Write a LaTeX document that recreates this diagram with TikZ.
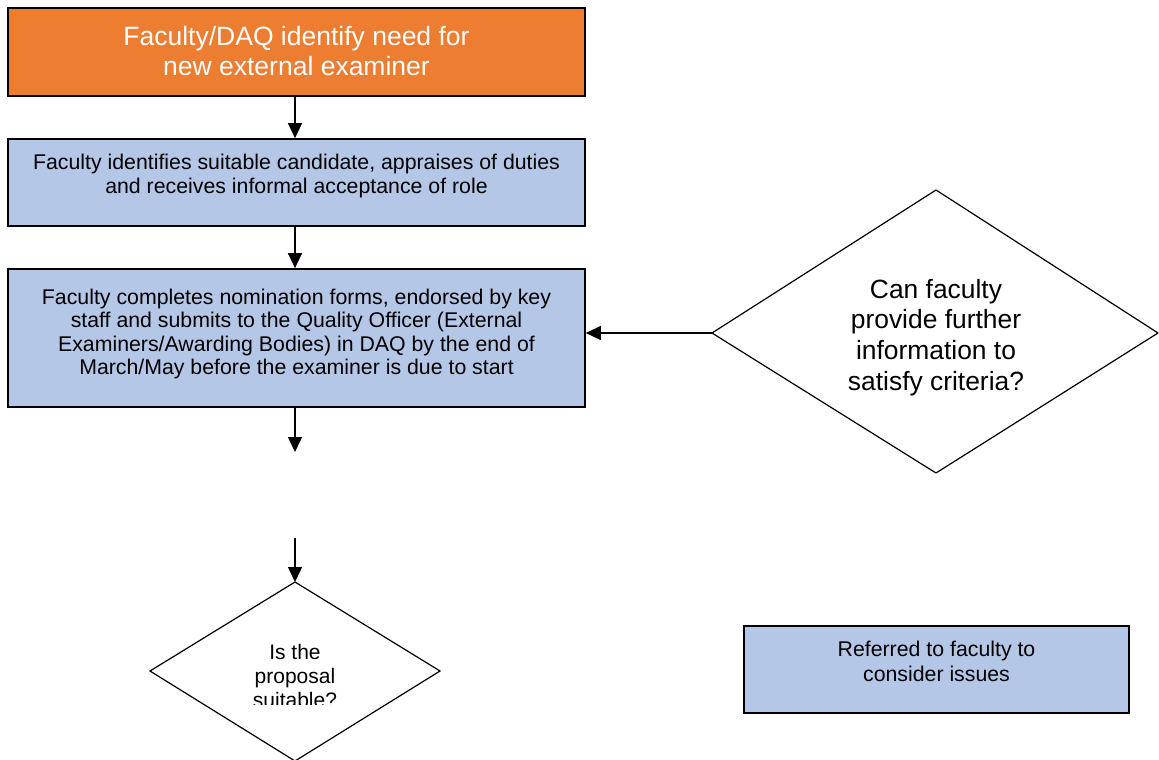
\documentclass[tikz,border=0pt]{standalone}
\usepackage{fontspec}
\setmainfont{Liberation Sans}
\usetikzlibrary{arrows.meta,shapes.geometric}
\definecolor{orangebox}{HTML}{ED7D31}
\definecolor{bluebox}{HTML}{B4C7E7}
\begin{document}
\begin{tikzpicture}[x=1pt,y=-1pt,
  boxstyle/.style={draw=black,line width=1.7pt,minimum width=577pt,inner sep=0pt},
  conn/.style={line width=1.4pt,-{Triangle[length=15pt,width=14pt]}},
  diam/.style={draw=black,line width=1.2pt,diamond,inner sep=0pt}]
\useasboundingbox (0,0) rectangle (1159,760);
% boxes
\node[boxstyle,fill=orangebox,minimum height=88pt] (b1) at (296.5,52) {};
\node[text=white,font=\fontsize{26.5}{30}\selectfont,align=center] (t1) at (296.5,51) {Faculty/DAQ identify need for\\new external examiner};
\node[boxstyle,fill=bluebox,minimum height=87pt] (b2) at (296.5,182.5) {};
\node[font=\fontsize{21.3}{24}\selectfont,align=center] (t2) at (296.5,176) {Faculty identifies suitable candidate, appraises of duties\\and receives informal acceptance of role};
\node[boxstyle,fill=bluebox,minimum height=138pt] (b3) at (296.5,338) {};
\node[font=\fontsize{21.3}{23.4}\selectfont,align=center] (t3) at (296.5,334) {Faculty completes nomination forms, endorsed by key\\staff and submits to the Quality Officer (External\\Examiners/Awarding Bodies) in DAQ by the end of\\March/May before the examiner is due to start};
\node[boxstyle,fill=bluebox,minimum width=385pt,minimum height=87pt] (b4) at (936.5,669.5) {};
\node[font=\fontsize{21.3}{24.5}\selectfont,align=center] (t4) at (936.5,661.5) {Referred to faculty to\\consider issues};
% right diamond
\coordinate (d1t) at (936,190);
\coordinate (d1l) at (712,333);
\coordinate (d1b) at (936,473);
\coordinate (d1r) at (1158,333);
\draw[line width=1.2pt] (d1t) -- (d1r) -- (d1b) -- (d1l) -- cycle;
\node[font=\fontsize{26.4}{30.7}\selectfont,align=center] (t5) at (936,337.5) {Can faculty\\provide further\\information to\\satisfy criteria?};
% left diamond
\coordinate (d2t) at (295,582);
\coordinate (d2l) at (150,671);
\coordinate (d2b) at (295,761);
\coordinate (d2r) at (440,671);
\draw[line width=1.2pt] (d2t) -- (d2r) -- (d2b) -- (d2l) -- cycle;
\begin{scope}
\clip (150,630) rectangle (440,704);
\node[font=\fontsize{21}{24}\selectfont,align=center] (t6) at (295,675.5) {Is the\\proposal\\suitable?};
\end{scope}
% connectors
\coordinate (e1) at (295,452);
\coordinate (s2) at (295,538);
\draw[conn] (b1.south -| 295,0) -- (b2.north -| 295,0);
\draw[conn] (b2.south -| 295,0) -- (b3.north -| 295,0);
\draw[conn] (b3.south -| 295,0) -- (e1);
\draw[conn] (s2) -- (d2t);
\draw[conn] (d1l) -- (d1l -| b3.east);
\end{tikzpicture}
\end{document}
